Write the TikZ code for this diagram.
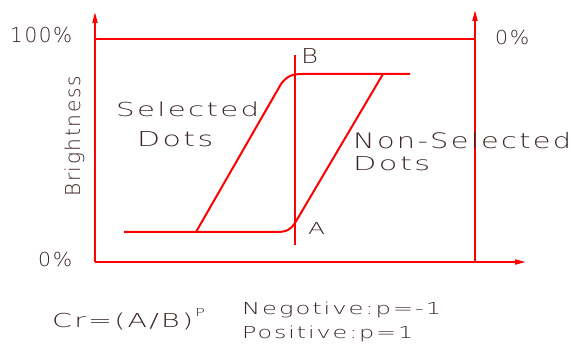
\documentclass[tikz,border=0pt]{standalone}
\usepackage{fontspec}
\usetikzlibrary{arrows.meta}
\newfontfamily\cadfont{DejaVu Sans ExtraLight}[LetterSpace=8]
\definecolor{txt}{HTML}{3A2424}
\definecolor{ln}{HTML}{FF0000}
\newcommand\cad[3]{\resizebox{#1pt}{#2pt}{\cadfont\smash{#3}\vrule height 7.29pt depth 0pt width 0pt}}
\tikzset{
  lbl/.style={anchor=base west, inner sep=0pt, text=txt},
  axis/.style={draw=ln, line width=1.8pt},
  curve/.style={draw=ln, line width=2pt, line join=round},
  marker/.style={draw=ln, line width=1.5pt},
  tip/.style={-{Triangle[length=11pt,width=5pt]}}
}
\begin{document}
\begin{tikzpicture}[x=1pt,y=-1pt]
\useasboundingbox (0,0) rectangle (571,347);
% coordinates
\coordinate (o) at (95,262);
\coordinate (ytop) at (95,12);
\coordinate (tl) at (95,39);
\coordinate (tr) at (475,39);
\coordinate (rb) at (475,262);
\coordinate (rtop) at (475,10);
\coordinate (xend) at (526,262);
\coordinate (mt) at (295,55);
\coordinate (mb) at (295,245);
% axes
\draw[axis,tip] (o) -- (ytop);
\draw[axis] (tl) -- (tr);
\draw[axis,tip] (rb) -- (rtop);
\draw[axis,tip] (o) -- (xend);
% marker line
\draw[marker] (mt) -- (mb);
% curves
\coordinate (n0) at (124,232);
\coordinate (n1) at (277,232);
\coordinate (n2) at (295,223);
\coordinate (n3) at (383,74);
\draw[curve] (n0) -- (n1) .. controls (287,232) and (291,229) .. (n2) -- (n3);
\coordinate (s0) at (196,232);
\coordinate (s1) at (281,84);
\coordinate (s2) at (302,74);
\coordinate (s3) at (410,74);
\draw[curve] (s0) -- (s1) .. controls (287,76) and (292,74) .. (s2) -- (s3);
% labels
\node[lbl] (p100) at (10,43) {\cad{62}{15}{100\%}};
\node[lbl] (p0r) at (495,45) {\cad{34}{14}{0\%}};
\node[lbl] (p0l) at (38,267) {\cad{34}{14}{0\%}};
\node[lbl] (sel) at (116,117) {\cad{143}{14}{Selected}};
\node[lbl] (seld) at (137,147) {\cad{76}{15}{Dots}};
\node[lbl] (nsel) at (353,149) {\cad{218}{15.5}{Non-Selected}};
\node[lbl] (nseld) at (353,171) {\cad{77}{14}{Dots}};
\node[lbl] (B) at (301,64) {\cad{17}{15}{B}};
\node[lbl] (A) at (308,235) {\cad{17}{12}{A}};
\node[lbl,rotate=90] (bright) at (80,197) {\cad{121}{15}{Brightness}};
\node[lbl] (cr) at (52,328) {\cad{141}{14}{Cr=(A/B)}};
\node[lbl] (crp) at (195,317) {\cad{10}{8}{P}};
\node[lbl] (neg) at (242,315) {\cad{199}{12}{Negotive:p=-1}};
\node[lbl] (pos) at (242,339) {\cad{171}{12}{Positive:p=1}};
\end{tikzpicture}
\end{document}
